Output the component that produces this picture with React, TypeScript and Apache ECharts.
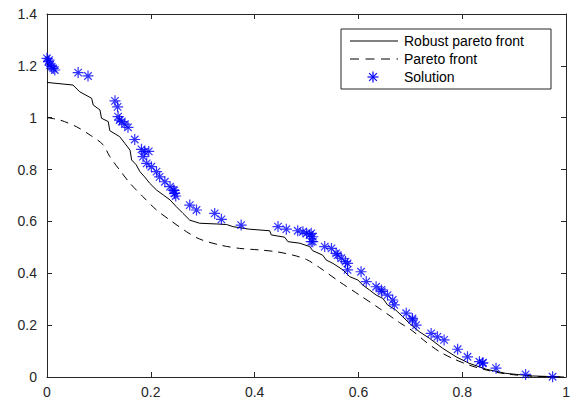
import React, { useEffect, useRef } from "react";
import * as echarts from "echarts";

const xTicks = [0, 0.2, 0.4, 0.6, 0.8, 1];
const yTicks = [0, 0.2, 0.4, 0.6, 0.8, 1, 1.2, 1.4];

const robustX = [0, 0.05, 0.063, 0.086, 0.089, 0.102, 0.105, 0.118, 0.121, 0.14, 0.15, 0.16, 0.163, 0.172, 0.179, 0.188, 0.198, 0.211, 0.224, 0.237, 0.249, 0.262, 0.275, 0.294, 0.329, 0.346, 0.358, 0.39, 0.429, 0.432, 0.458, 0.464, 0.487, 0.506, 0.512, 0.531, 0.538, 0.551, 0.57, 0.583, 0.599, 0.608, 0.621, 0.634, 0.647, 0.656, 0.672, 0.685, 0.698, 0.717, 0.737, 0.762, 0.788, 0.813, 0.846, 0.884, 0.935, 0.996];
const robustY = [1.136, 1.126, 1.1, 1.075, 1.049, 1.03, 0.998, 0.985, 0.95, 0.927, 0.901, 0.875, 0.837, 0.818, 0.792, 0.772, 0.747, 0.721, 0.702, 0.683, 0.657, 0.631, 0.605, 0.593, 0.59, 0.588, 0.58, 0.57, 0.564, 0.548, 0.539, 0.522, 0.516, 0.503, 0.487, 0.47, 0.451, 0.438, 0.413, 0.387, 0.374, 0.355, 0.336, 0.316, 0.303, 0.278, 0.258, 0.233, 0.207, 0.175, 0.149, 0.111, 0.078, 0.053, 0.03, 0.014, 0.004, 0.0];

const paretoX = [0, 0.025, 0.057, 0.083, 0.108, 0.121, 0.14, 0.16, 0.185, 0.211, 0.237, 0.269, 0.294, 0.333, 0.371, 0.41, 0.442, 0.474, 0.5, 0.525, 0.563, 0.602, 0.64, 0.679, 0.704, 0.73, 0.756, 0.781, 0.813, 0.846, 0.884, 0.935, 1.0];
const paretoY = [1.0, 0.991, 0.965, 0.933, 0.896, 0.85, 0.798, 0.747, 0.695, 0.644, 0.605, 0.56, 0.532, 0.509, 0.496, 0.49, 0.483, 0.47, 0.453, 0.422, 0.368, 0.316, 0.265, 0.21, 0.178, 0.135, 0.098, 0.072, 0.046, 0.027, 0.012, 0.003, 0];

const solX = [0, 0.003, 0.004, 0.006, 0.009, 0.012, 0.015, 0.06, 0.079, 0.131, 0.136, 0.137, 0.14, 0.144, 0.15, 0.156, 0.169, 0.182, 0.188, 0.196, 0.185, 0.192, 0.201, 0.211, 0.217, 0.227, 0.237, 0.243, 0.245, 0.246, 0.248, 0.275, 0.288, 0.323, 0.336, 0.374, 0.445, 0.461, 0.483, 0.493, 0.5, 0.506, 0.509, 0.512, 0.509, 0.512, 0.535, 0.548, 0.557, 0.56, 0.567, 0.575, 0.579, 0.579, 0.605, 0.615, 0.634, 0.644, 0.645, 0.656, 0.666, 0.669, 0.692, 0.704, 0.704, 0.711, 0.74, 0.752, 0.765, 0.791, 0.81, 0.833, 0.839, 0.84, 0.865, 0.922, 0.974];
const solY = [1.229, 1.216, 1.222, 1.203, 1.197, 1.19, 1.184, 1.174, 1.161, 1.065, 1.042, 1.004, 0.991, 0.985, 0.975, 0.963, 0.916, 0.878, 0.869, 0.87, 0.85, 0.824, 0.811, 0.792, 0.772, 0.753, 0.734, 0.721, 0.72, 0.708, 0.698, 0.663, 0.644, 0.631, 0.608, 0.586, 0.58, 0.57, 0.564, 0.56, 0.554, 0.548, 0.554, 0.541, 0.522, 0.522, 0.503, 0.496, 0.477, 0.47, 0.458, 0.445, 0.438, 0.413, 0.406, 0.368, 0.348, 0.336, 0.33, 0.316, 0.297, 0.278, 0.246, 0.226, 0.22, 0.2, 0.168, 0.155, 0.143, 0.107, 0.078, 0.059, 0.053, 0.055, 0.034, 0.01, 0.001];

const seriesNames = ["Robust pareto front", "Pareto front", "Solution"];

const FONT = "'Liberation Sans', Arial, Helvetica, sans-serif";
const AX = "#262626";
const BLUE = "#0000ff";
const STAR = "path://M5,0L5,10M0,5L10,5M1.6,1.6L8.4,8.4M1.6,8.4L8.4,1.6";

export default function App() {
  const ref = useRef<HTMLDivElement>(null);
  useEffect(() => {
    if (!ref.current) return;
    const chart = echarts.init(ref.current, null, { renderer: "svg" });
    const axisCommon = {
      type: "value" as const,
      splitLine: { show: false },
      axisLine: { show: true, onZero: false, lineStyle: { color: AX, width: 1 } },
      axisTick: { show: true, inside: true, length: 5, lineStyle: { color: AX } },
    };
    const xAxisBase = { ...axisCommon, min: 0, max: 1, interval: 0.2 };
    const yAxisBase = { ...axisCommon, min: 0, max: 1.4, interval: 0.2 };
    const legendX = 341, legendY = 29;
    const star = (cx: number, cy: number, r: number) => [
      [cx, cy - r, cx, cy + r],
      [cx - r, cy, cx + r, cy],
      [cx - r * 0.7, cy - r * 0.7, cx + r * 0.7, cy + r * 0.7],
      [cx - r * 0.7, cy + r * 0.7, cx + r * 0.7, cy - r * 0.7],
    ].map((s) => ({
      type: "line",
      shape: { x1: s[0], y1: s[1], x2: s[2], y2: s[3] },
      style: { stroke: BLUE, lineWidth: 1.2 },
      z: 12,
    }));
    chart.setOption({
      animation: false,
      backgroundColor: "#ffffff",
      grid: { left: 47, right: 6, top: 14, bottom: 25 },
      xAxis: [
        {
          ...xAxisBase,
          position: "bottom",
          axisLabel: {
            color: AX, fontSize: 14, fontFamily: FONT, margin: 8,
            formatter: (v: number) => (xTicks.includes(Math.round(v * 10) / 10) ? String(Math.round(v * 10) / 10) : ""),
          },
        },
        { ...xAxisBase, position: "top", axisLabel: { show: false } },
      ],
      yAxis: [
        {
          ...yAxisBase,
          position: "left",
          axisLabel: {
            color: AX, fontSize: 14, fontFamily: FONT, margin: 10,
            formatter: (v: number) => (yTicks.includes(Math.round(v * 10) / 10) ? String(Math.round(v * 10) / 10) : ""),
          },
        },
        { ...yAxisBase, position: "right", axisLabel: { show: false } },
      ],
      series: [
        {
          name: seriesNames[0],
          type: "line",
          data: robustX.map((x, i) => [x, robustY[i]]),
          showSymbol: false,
          symbol: "none",
          lineStyle: { color: "#000000", width: 1 },
          z: 2,
        },
        {
          name: seriesNames[1],
          type: "line",
          data: paretoX.map((x, i) => [x, paretoY[i]]),
          showSymbol: false,
          symbol: "none",
          smooth: 0.3,
          lineStyle: { color: "#000000", width: 1, type: [8, 6] },
          z: 2,
        },
        {
          name: seriesNames[2],
          type: "scatter",
          data: solX.map((x, i) => [x, solY[i]]),
          symbol: STAR,
          symbolSize: 11,
          itemStyle: { color: "rgba(0,0,0,0)", borderColor: BLUE, borderWidth: 1.2 },
          z: 3,
        },
      ],
      graphic: [
        {
          type: "rect",
          shape: { x: legendX, y: legendY, width: 210, height: 60 },
          style: { fill: "#ffffff", stroke: AX, lineWidth: 1 },
          z: 10,
        },
        {
          type: "line",
          shape: { x1: 350, y1: 41, x2: 398, y2: 41 },
          style: { stroke: "#000000", lineWidth: 1 },
          z: 11,
        },
        {
          type: "line",
          shape: { x1: 350, y1: 59, x2: 398, y2: 59 },
          style: { stroke: "#000000", lineWidth: 1, lineDash: [9, 6.5] },
          z: 11,
        },
        ...star(373, 77, 5.5),
        ...seriesNames.map((t, i) => ({
          type: "text",
          x: 404,
          y: 41 + i * 18,
          style: { text: t, fill: "#000000", fontSize: 14, fontFamily: FONT, verticalAlign: "middle", align: "left" },
          z: 11,
        })),
      ],
    });
    return () => chart.dispose();
  }, []);
  return <div ref={ref} style={{ position: "fixed", left: 0, top: 0, width: 573, height: 402 }} />;
}
